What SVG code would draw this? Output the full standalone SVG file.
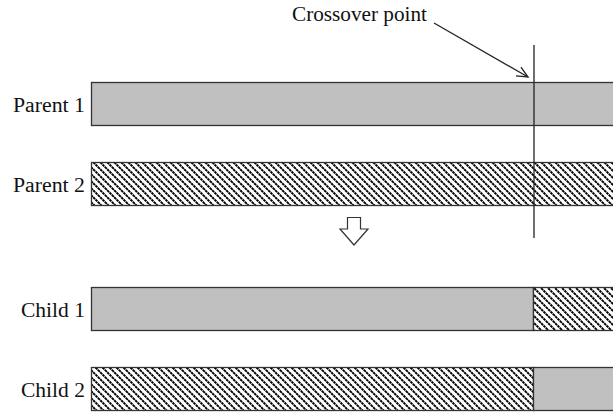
<svg xmlns="http://www.w3.org/2000/svg" width="613" height="415" viewBox="0 0 613 415">
<style>
.lbl{font-family:"Liberation Serif","DejaVu Serif",serif;font-size:20px;fill:#111}
.bar{stroke:#333;stroke-width:1.3}
.solid{fill:#c0c0c0}
.hatch{fill:url(#h)}
.ln{stroke:#222;stroke-width:1.3;fill:none}
</style>
<defs>
<pattern id="h" patternUnits="userSpaceOnUse" x="92" y="0" width="7" height="7">
<rect width="7" height="7" fill="#fff"/>
<path d="M-1,-1 L8,8 M-1,6 L1,8 M6,-1 L8,1" stroke="#000" stroke-width="1.9" stroke-dasharray="2.6 0.6"/>
</pattern>
<marker id="ah" markerWidth="14" markerHeight="12" refX="12" refY="6" orient="auto" markerUnits="userSpaceOnUse">
<path d="M1,1 L12,6 L1,11" fill="none" stroke="#222" stroke-width="1.3"/>
</marker>
</defs>
<g id="parent1">
<text class="lbl" x="13" y="112" textLength="72" lengthAdjust="spacingAndGlyphs">Parent 1</text>
<rect class="bar solid" x="91.5" y="82.5" width="530" height="43"/>
</g>
<g id="parent2">
<text class="lbl" x="13" y="192" textLength="72" lengthAdjust="spacingAndGlyphs">Parent 2</text>
<rect class="bar hatch" x="91.5" y="162.5" width="530" height="43"/>
</g>
<g id="child1">
<text class="lbl" x="21" y="317" textLength="64" lengthAdjust="spacingAndGlyphs">Child 1</text>
<rect class="bar solid" x="91.5" y="287.5" width="442" height="43"/>
<rect class="bar hatch" x="533.5" y="287.5" width="90" height="43"/>
</g>
<g id="child2">
<text class="lbl" x="21" y="397" textLength="64" lengthAdjust="spacingAndGlyphs">Child 2</text>
<rect class="bar hatch" x="91.5" y="367.5" width="442" height="43"/>
<rect class="bar solid" x="533.5" y="367.5" width="90" height="43"/>
</g>
<g id="crossover">
<text class="lbl" x="292" y="21" textLength="135" lengthAdjust="spacingAndGlyphs">Crossover point</text>
<line class="ln" x1="534" y1="45" x2="534" y2="238"/>
</g>
<g id="connectors">
<line class="ln" x1="434" y1="23" x2="528" y2="77" marker-end="url(#ah)"/>
<path d="M347.5,217.5 H360.5 V229 H368 L354,245 L340,229 H347.5 Z" fill="#fff" stroke="#333" stroke-width="1.2"/>
</g>
</svg>
